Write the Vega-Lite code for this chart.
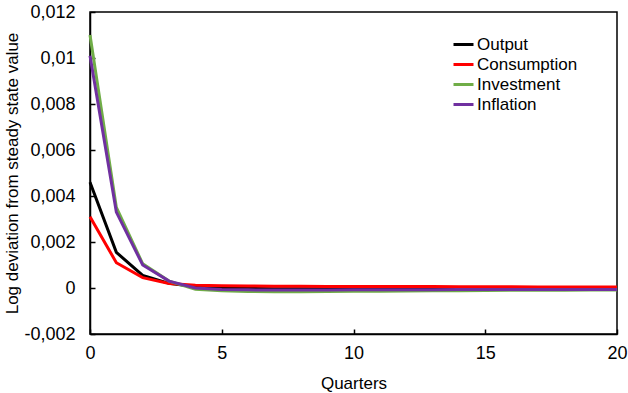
{
  "$schema": "https://vega.github.io/schema/vega-lite/v6.json",
  "width": 527,
  "height": 322,
  "autosize": {"type": "none"},
  "padding": {"left": 90, "top": 12, "right": 11, "bottom": 59},
  "background": "white",
  "config": {
    "font": "Liberation Sans",
    "view": {"stroke": "black", "strokeWidth": 1.5},
    "axis": {"grid": false, "domainColor": "black", "domainWidth": 1.5, "tickColor": "black", "tickWidth": 1.5, "tickSize": -5, "labelColor": "black", "labelFontSize": 18, "titleFontSize": 17, "titleFontWeight": "normal", "titleColor": "black", "labelFont": "Liberation Sans", "titleFont": "Liberation Sans"}
  },
  "data": {
    "values": [
      {"q": 0, "s": "Output", "v": 0.0046},
      {"q": 1, "s": "Output", "v": 0.00155},
      {"q": 2, "s": "Output", "v": 0.00055},
      {"q": 3, "s": "Output", "v": 0.0002},
      {"q": 4, "s": "Output", "v": 0.00005},
      {"q": 5, "s": "Output", "v": 0.0},
      {"q": 6, "s": "Output", "v": -0.00002},
      {"q": 7, "s": "Output", "v": -0.00003},
      {"q": 8, "s": "Output", "v": -0.00003},
      {"q": 9, "s": "Output", "v": -0.00003},
      {"q": 10, "s": "Output", "v": -0.00003},
      {"q": 11, "s": "Output", "v": -0.00003},
      {"q": 12, "s": "Output", "v": -0.00003},
      {"q": 13, "s": "Output", "v": -0.00003},
      {"q": 14, "s": "Output", "v": -0.00002},
      {"q": 15, "s": "Output", "v": -0.00002},
      {"q": 16, "s": "Output", "v": -0.00002},
      {"q": 17, "s": "Output", "v": -0.00002},
      {"q": 18, "s": "Output", "v": -0.00002},
      {"q": 19, "s": "Output", "v": -0.00002},
      {"q": 20, "s": "Output", "v": -0.00002},
      {"q": 0, "s": "Consumption", "v": 0.0031},
      {"q": 1, "s": "Consumption", "v": 0.0011},
      {"q": 2, "s": "Consumption", "v": 0.00045},
      {"q": 3, "s": "Consumption", "v": 0.0002},
      {"q": 4, "s": "Consumption", "v": 0.00012},
      {"q": 5, "s": "Consumption", "v": 0.0001},
      {"q": 6, "s": "Consumption", "v": 0.00009},
      {"q": 7, "s": "Consumption", "v": 0.00008},
      {"q": 8, "s": "Consumption", "v": 0.00008},
      {"q": 9, "s": "Consumption", "v": 0.00007},
      {"q": 10, "s": "Consumption", "v": 0.00007},
      {"q": 11, "s": "Consumption", "v": 0.00006},
      {"q": 12, "s": "Consumption", "v": 0.00006},
      {"q": 13, "s": "Consumption", "v": 0.00006},
      {"q": 14, "s": "Consumption", "v": 0.00005},
      {"q": 15, "s": "Consumption", "v": 0.00005},
      {"q": 16, "s": "Consumption", "v": 0.00005},
      {"q": 17, "s": "Consumption", "v": 0.00004},
      {"q": 18, "s": "Consumption", "v": 0.00004},
      {"q": 19, "s": "Consumption", "v": 0.00004},
      {"q": 20, "s": "Consumption", "v": 0.00004},
      {"q": 0, "s": "Investment", "v": 0.011},
      {"q": 1, "s": "Investment", "v": 0.0035},
      {"q": 2, "s": "Investment", "v": 0.00105},
      {"q": 3, "s": "Investment", "v": 0.0003},
      {"q": 4, "s": "Investment", "v": -0.00005},
      {"q": 5, "s": "Investment", "v": -0.00012},
      {"q": 6, "s": "Investment", "v": -0.00015},
      {"q": 7, "s": "Investment", "v": -0.00016},
      {"q": 8, "s": "Investment", "v": -0.00016},
      {"q": 9, "s": "Investment", "v": -0.00015},
      {"q": 10, "s": "Investment", "v": -0.00014},
      {"q": 11, "s": "Investment", "v": -0.00014},
      {"q": 12, "s": "Investment", "v": -0.00013},
      {"q": 13, "s": "Investment", "v": -0.00012},
      {"q": 14, "s": "Investment", "v": -0.00012},
      {"q": 15, "s": "Investment", "v": -0.00011},
      {"q": 16, "s": "Investment", "v": -0.0001},
      {"q": 17, "s": "Investment", "v": -0.0001},
      {"q": 18, "s": "Investment", "v": -0.0001},
      {"q": 19, "s": "Investment", "v": -0.00009},
      {"q": 20, "s": "Investment", "v": -0.00009},
      {"q": 0, "s": "Inflation", "v": 0.0101},
      {"q": 1, "s": "Inflation", "v": 0.0033},
      {"q": 2, "s": "Inflation", "v": 0.001},
      {"q": 3, "s": "Inflation", "v": 0.0003},
      {"q": 4, "s": "Inflation", "v": 0.0},
      {"q": 5, "s": "Inflation", "v": -0.00006},
      {"q": 6, "s": "Inflation", "v": -0.00008},
      {"q": 7, "s": "Inflation", "v": -0.00009},
      {"q": 8, "s": "Inflation", "v": -0.00009},
      {"q": 9, "s": "Inflation", "v": -0.00009},
      {"q": 10, "s": "Inflation", "v": -0.00008},
      {"q": 11, "s": "Inflation", "v": -0.00008},
      {"q": 12, "s": "Inflation", "v": -0.00008},
      {"q": 13, "s": "Inflation", "v": -0.00008},
      {"q": 14, "s": "Inflation", "v": -0.00007},
      {"q": 15, "s": "Inflation", "v": -0.00007},
      {"q": 16, "s": "Inflation", "v": -0.00007},
      {"q": 17, "s": "Inflation", "v": -0.00007},
      {"q": 18, "s": "Inflation", "v": -0.00006},
      {"q": 19, "s": "Inflation", "v": -0.00006},
      {"q": 20, "s": "Inflation", "v": -0.00006}
    ]
  },
  "mark": {"type": "line", "strokeWidth": 3},
  "encoding": {
    "x": {"field": "q", "type": "quantitative", "scale": {"domain": [0, 20], "nice": false, "zero": false},
      "axis": {"title": "Quarters", "values": [0, 5, 10, 15, 20], "labelPadding": 15, "titlePadding": 13, "labelFlush": false}},
    "y": {"field": "v", "type": "quantitative", "scale": {"domain": [-0.002, 0.012], "nice": false, "zero": false},
      "axis": {"title": "Log deviation from steady state value", "values": [-0.002, 0, 0.002, 0.004, 0.006, 0.008, 0.01, 0.012], "labelExpr": "replace(replace(format(datum.value, '.3~f'), '.', ','), '\u2212', '-')", "labelPadding": 20, "titlePadding": 2}},
    "color": {"field": "s", "type": "nominal", "sort": ["Output", "Consumption", "Investment", "Inflation"],
      "scale": {"domain": ["Output", "Consumption", "Investment", "Inflation"], "range": ["#000000", "#FF0000", "#70AD47", "#7030A0"]},
      "legend": {"title": null, "orient": "none", "legendX": 362, "legendY": 21, "symbolType": "stroke", "symbolSize": 400, "symbolStrokeWidth": 3, "labelFontSize": 17, "labelColor": "black", "rowPadding": 0, "symbolOffset": 0, "labelOffset": 2}}
  }
}
